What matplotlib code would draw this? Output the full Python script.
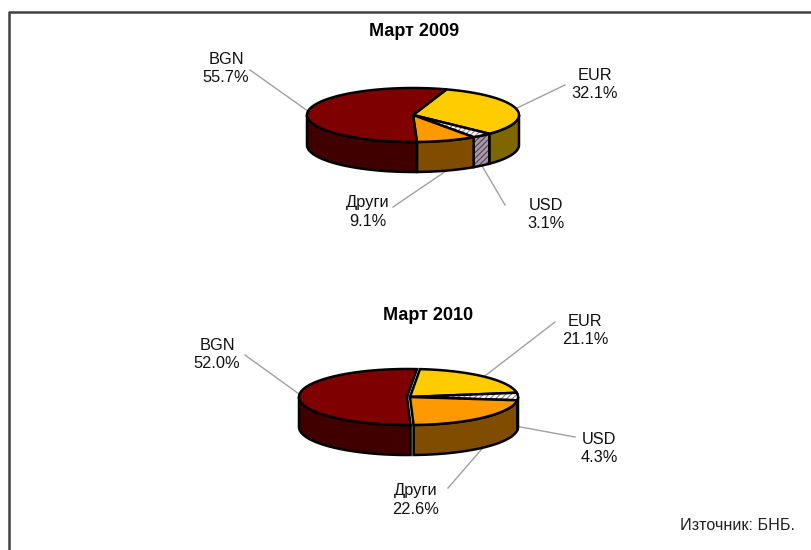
import numpy as np
import matplotlib
matplotlib.use('Agg')
import matplotlib.pyplot as plt
from matplotlib.patches import Polygon

plt.rcParams['font.family'] = ['Liberation Sans', 'DejaVu Sans']
plt.rcParams['hatch.linewidth'] = 0.9

# data, clockwise from the first slice
categories = ['EUR', 'USD', 'Други', 'BGN']
values_2009 = [32.1, 3.1, 9.1, 55.7]
values_2010 = [21.1, 4.3, 22.6, 52.0]
title_2009 = 'Март 2009'
title_2010 = 'Март 2010'
source_text = 'Източник: БНБ.'

top_colors = ['#ffcc00', '#ffffff', '#ff9900', '#7f0000']
side_colors = ['#806600', '#a89aa8', '#804d00', '#400000']
hatches = [None, '//////', None, None]
top_hatch_color = '#9a8a9a'
side_hatch_color = '#55485a'
LEADER = '#a0a0a0'
FONT_SIZE = 11.8


def arc(cx, cy, a, b, start, end):
    # angles in degrees, clockwise from the top of the ellipse
    t = np.radians(np.linspace(start, end, max(int(abs(end - start)), 2)))
    return np.column_stack([cx + a * np.sin(t), cy - b * np.cos(t)])


def add_face(ax, pts, color, hatch, hatch_color, zorder):
    # fill and hatch first, black outline on top so the hatch can be lighter
    ax.add_patch(Polygon(pts, closed=True, facecolor=color, edgecolor=hatch_color if hatch else color,
                         hatch=hatch, lw=0, zorder=zorder))
    ax.add_patch(Polygon(pts, closed=True, fill=False, edgecolor='black', lw=1.8, zorder=zorder))


def draw_pie(ax, values, cx, cy, a, b, depth, start, label_pos, bgn_shift=0):
    angle = start
    slices = []
    for i, v in enumerate(values):
        sweep = v / sum(values) * 360
        slices.append((i, angle, angle + sweep))
        angle += sweep

    # front walls first, only the part between 90 and 270 degrees shows
    for i, s, e in slices:
        dx = bgn_shift if categories[i] == 'BGN' else 0
        lo = max(s, 90)
        hi = min(e, 270)
        if hi <= lo:
            continue
        upper = arc(cx + dx, cy, a, b, lo, hi)
        lower = arc(cx + dx, cy + depth, a, b, lo, hi)
        add_face(ax, np.vstack([upper, lower[::-1]]), side_colors[i], hatches[i], side_hatch_color, 2)

    # top faces
    for i, s, e in slices:
        dx = bgn_shift if categories[i] == 'BGN' else 0
        pts = np.vstack([[cx + dx, cy], arc(cx + dx, cy, a, b, s, e)])
        add_face(ax, pts, top_colors[i], hatches[i], top_hatch_color, 3)

    # labels and leader lines
    for i, s, e in slices:
        mid = np.radians((s + e) / 2)
        px = cx + a * np.sin(mid)
        py = cy - b * np.cos(mid)
        if 85 <= (s + e) / 2 <= 265:
            py += depth
        lx, ly, tx, ty = label_pos[i]
        ax.plot([lx, px], [ly, py], color=LEADER, lw=1, zorder=1)
        ax.text(tx, ty, f'{categories[i]}\n{values[i]:.1f}%', ha='center', va='center',
                fontsize=FONT_SIZE, linespacing=1.25, color='#111111')


fig = plt.figure(figsize=(8.11, 5.5), dpi=100)
ax = fig.add_axes([0, 0, 1, 1])
ax.set_xlim(0, 811)
ax.set_ylim(550, 0)
ax.axis('off')

# outer frame, only left and top fall inside the picture
ax.plot([9, 9, 811], [550, 12, 12], color='#404040', lw=1.8, zorder=1)

# leader start x, y and text centre x, y for each category
labels_2009 = [(565, 85, 595, 85), (505, 205, 546, 215), (393, 207, 368, 212), (250, 70, 226, 68)]
labels_2010 = [(555, 322, 585, 331), (575, 437, 599, 449), (448, 488, 416, 500), (245, 355, 217, 354)]

draw_pie(ax, values_2009, 413, 115, 106, 27, 30, 18.4, labels_2009)
draw_pie(ax, values_2010, 410, 397, 108, 28, 30, 5.3, labels_2010, bgn_shift=-3)

ax.text(414, 31, title_2009, ha='center', va='center', fontsize=13, fontweight='bold')
ax.text(428, 315, title_2010, ha='center', va='center', fontsize=13, fontweight='bold')
ax.text(737, 526, source_text, ha='center', va='center', fontsize=11.6, color='#222222')

plt.savefig('out.png', dpi=100)
